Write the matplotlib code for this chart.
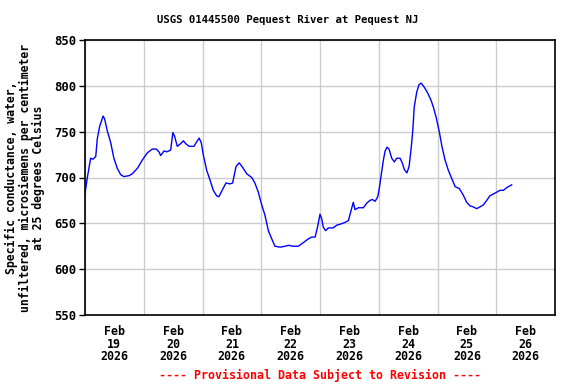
import matplotlib
matplotlib.use("Agg")
import matplotlib.pyplot as plt
from matplotlib.ticker import FixedLocator, NullFormatter

# hours since Feb 19 2026 00:00
hours = [0, 0.9, 1.6, 2.3, 3.3, 4.4, 5.0, 6.0, 7.4, 8.0, 9.1, 10.5, 11.8, 13.2, 14.6, 15.9,
         18.0, 19.3, 21.4, 23.4, 25.5, 27.5, 29.1, 30.2, 30.9, 32.3, 33.4, 34.3, 35.0, 35.9,
         36.6, 37.7, 39.1, 40.2, 41.1, 42.5, 44.5, 46.6, 47.5, 48.3, 49.7, 51.1, 52.4, 53.8,
         54.7, 56.2, 57.6, 59.2, 60.3, 61.7, 63.0, 64.4, 66.1, 68.1, 69.4, 70.8, 72.2, 73.5,
         74.9, 76.3, 77.6, 79.7, 81.7, 83.1, 85.1, 87.1, 89.2, 91.2, 92.6, 94.0, 95.0, 96.0,
         96.7, 97.3, 98.3, 99.4, 101.4, 102.8, 104.2, 106.2, 107.6, 108.7, 109.6, 110.3,
         111.7, 113.7, 115.1, 116.4, 117.4, 118.5, 119.6, 120.2, 120.9, 121.9, 122.6, 123.4,
         124.2, 125.3, 126.4, 127.3, 128.7, 129.6, 130.4, 131.5, 132.4, 133.2, 133.9, 134.5,
         135.5, 136.4, 137.3, 138.2, 139.2, 140.2, 141.4, 142.4, 143.5, 144.8, 145.8, 147.1,
         148.4, 149.8, 151.2, 152.9, 154.5, 155.9, 157.3, 158.6, 160.0, 161.4, 162.7, 164.1,
         165.4, 167.5, 169.5, 170.9, 172.3, 173.6, 174.3]
values = [683, 699, 710, 721, 720, 723, 742, 756, 767, 764, 751, 738, 721, 710, 703, 701,
          702, 704, 710, 719, 727, 731, 731, 728, 724, 729, 728, 729, 730, 749,
          745, 734, 737, 740, 737, 734, 734, 743, 738, 725, 708, 697, 686, 680,
          679, 687, 694, 693, 694, 712, 716, 711, 704, 700, 694, 684, 670, 659,
          642, 633, 625, 624, 625, 626, 625, 625, 629, 633, 635, 635, 646, 660,
          655, 646, 642, 645, 645, 648, 649, 651, 653, 664, 673, 665,
          667, 667, 672, 675, 676, 674, 679, 688, 701, 719, 729, 733,
          731, 721, 717, 721, 721, 716, 709, 705, 712, 731, 751, 777,
          793, 801, 803, 800, 796, 791, 784, 776, 765, 749, 734, 719,
          708, 699, 690, 688, 681, 673, 669, 668, 666, 668, 670, 675,
          680, 683, 686, 686, 689, 691, 692]

day_labels = ["Feb\n19\n2026", "Feb\n20\n2026", "Feb\n21\n2026", "Feb\n22\n2026",
              "Feb\n23\n2026", "Feb\n24\n2026", "Feb\n25\n2026", "Feb\n26\n2026"]
y_ticks = [550, 600, 650, 700, 750, 800, 850]

title = "USGS 01445500 Pequest River at Pequest NJ"
ylabel = "Specific conductance, water,\nunfiltered, microsiemens per centimeter\nat 25 degrees Celsius"
footer = "---- Provisional Data Subject to Revision ----"

font = "DejaVu Sans Mono"

fig = plt.figure(figsize=(5.76, 3.84), dpi=100)
ax = fig.add_axes([85 / 576, 1 - 315 / 384, 470 / 576, 275 / 384])

ax.plot(hours, values, color="#0000ff", lw=1.0)

ax.set_xlim(0, 192)
ax.set_ylim(550, 850)

ax.xaxis.set_major_locator(FixedLocator([24 * i for i in range(9)]))
ax.xaxis.set_major_formatter(NullFormatter())
ax.xaxis.set_minor_locator(FixedLocator([24 * i + 12 for i in range(8)]))
ax.set_xticklabels(day_labels, minor=True)
ax.tick_params(axis="x", which="both", length=0, pad=7)
for lab in ax.get_xticklabels(minor=True):
    lab.set_fontfamily(font)
    lab.set_fontweight("bold")
    lab.set_fontsize(8.4)
    lab.set_linespacing(0.98)

ax.set_yticks(y_ticks)
ax.tick_params(axis="y", length=4, width=1, pad=2, direction="out")
for lab in ax.get_yticklabels():
    lab.set_fontfamily(font)
    lab.set_fontweight("bold")
    lab.set_fontsize(8.8)

ax.grid(True, which="major", color="#cccccc", lw=1)
ax.set_axisbelow(True)
for sp in ax.spines.values():
    sp.set_color("black")
    sp.set_linewidth(1.2)

fig.text(0.5, 1 - 20 / 384, title, ha="center", va="center",
         fontfamily=font, fontweight="bold", fontsize=7.7)
fig.text(25 / 576, 1 - 178 / 384, ylabel, ha="center", va="center", rotation=90,
         fontfamily=font, fontweight="bold", fontsize=8.3, linespacing=1.05)
fig.text(320 / 576, 1 - 375 / 384, footer, ha="center", va="center", color="#ff0000",
         fontfamily=font, fontweight="bold", fontsize=8.4)

fig.savefig("out.png", dpi=100)
